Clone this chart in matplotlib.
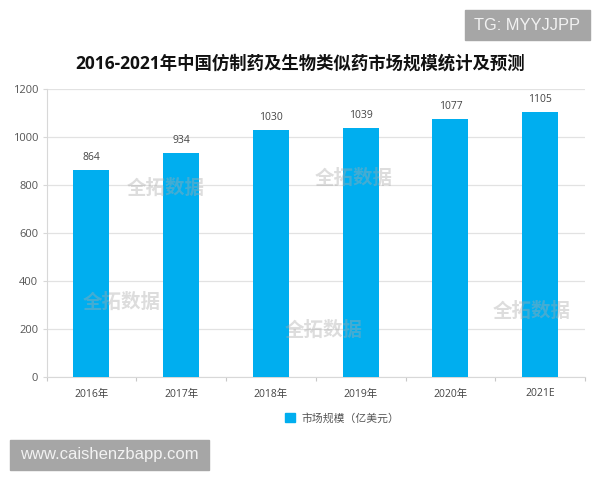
import matplotlib
matplotlib.use('Agg')
import matplotlib.pyplot as plt
from matplotlib.patches import Rectangle

plt.rcParams['font.family'] = ['Open Sans', 'Noto Sans CJK SC', 'DejaVu Sans']

years = ['2016年', '2017年', '2018年', '2019年', '2020年', '2021E']
values = [864, 934, 1030, 1039, 1077, 1105]
yticks = [0, 200, 400, 600, 800, 1000, 1200]
title = '2016-2021年中国仿制药及生物类似药市场规模统计及预测'
legend_label = '市场规模（亿美元）'
watermark = '全拓数据'
# watermark spots in pixels from top left
marks = [(166, 189), (354, 179), (122, 303), (324, 331), (532, 312)]

W, H = 600, 480
blue = '#00AEEF'

fig = plt.figure(figsize=(6, 4.8), dpi=100)
ax = fig.add_axes([46.5 / W, (H - 377) / H, 538.5 / W, 288 / H])

x = list(range(len(years)))
bars = ax.bar(x, values, width=0.4, color=blue, label=legend_label, zorder=3)
for xi, v in zip(x, values):
    ax.annotate(str(v), (xi, v), xytext=(0, 7), textcoords='offset pixels',
                ha='center', va='bottom', fontsize=7.5, color='#444444')

ax.set_xlim(-0.5, 5.5)
ax.set_ylim(0, 1200)
ax.set_yticks(yticks)
ax.grid(axis='y', color='#E2E2E2', lw=0.9, zorder=0)
ax.set_axisbelow(True)
for s in ['top', 'right']:
    ax.spines[s].set_visible(False)
ax.spines['left'].set_color('#D8D8D8')
ax.spines['bottom'].set_color('#D8D8D8')
ax.tick_params(axis='y', length=3, color='#D8D8D8', labelcolor='#555555', labelsize=8, pad=3)

# ticks sit between the categories
ax.set_xticks([i - 0.5 for i in range(7)])
ax.set_xticklabels([])
ax.tick_params(axis='x', length=3, color='#C8C8C8')
for xi, lab in zip(x, years):
    ypix = 393 if lab.endswith('E') else 395
    ax.text(xi, 1 - (ypix - 89) / 288, lab, transform=ax.get_xaxis_transform(),
            ha='center', va='center', fontsize=7.5, color='#444444')

fig.text(300.5 / W, 1 - 63.5 / H, title, ha='center', va='center', fontsize=12.5,
         fontweight='bold', color='#111111')

# legend by hand so the swatch lands where it does in the picture
fig.patches.append(Rectangle((285 / W, 1 - 422 / H), 10 / W, 9 / H, transform=fig.transFigure,
                             color=blue))
fig.text(302 / W, 1 - 419 / H, legend_label, ha='left', va='center', fontsize=7.8, color='#555555')

for mx, my in marks:
    fig.text(mx / W, 1 - my / H, watermark, ha='center', va='center', fontsize=14,
             fontweight='bold', color='#AAAAAA', alpha=0.4, zorder=5)

# grey corner badges
fig.patches.append(Rectangle((465 / W, 1 - 40 / H), 125 / W, 30 / H, transform=fig.transFigure,
                             color='#A6A6A6'))
fig.text(527.5 / W, 1 - 25.5 / H, 'TG: MYYJJPP', ha='center', va='center', fontsize=11.8,
         family=['Liberation Sans'], color='#F2F2F2')
fig.patches.append(Rectangle((10 / W, 1 - 470 / H), 199 / W, 30 / H, transform=fig.transFigure,
                             color='#A6A6A6'))
fig.text(109 / W, 1 - 455 / H, 'www.caishenzbapp.com', ha='center', va='center', fontsize=12,
         family=['Liberation Sans'], color='#F2F2F2')

fig.savefig('out.png', dpi=100)
